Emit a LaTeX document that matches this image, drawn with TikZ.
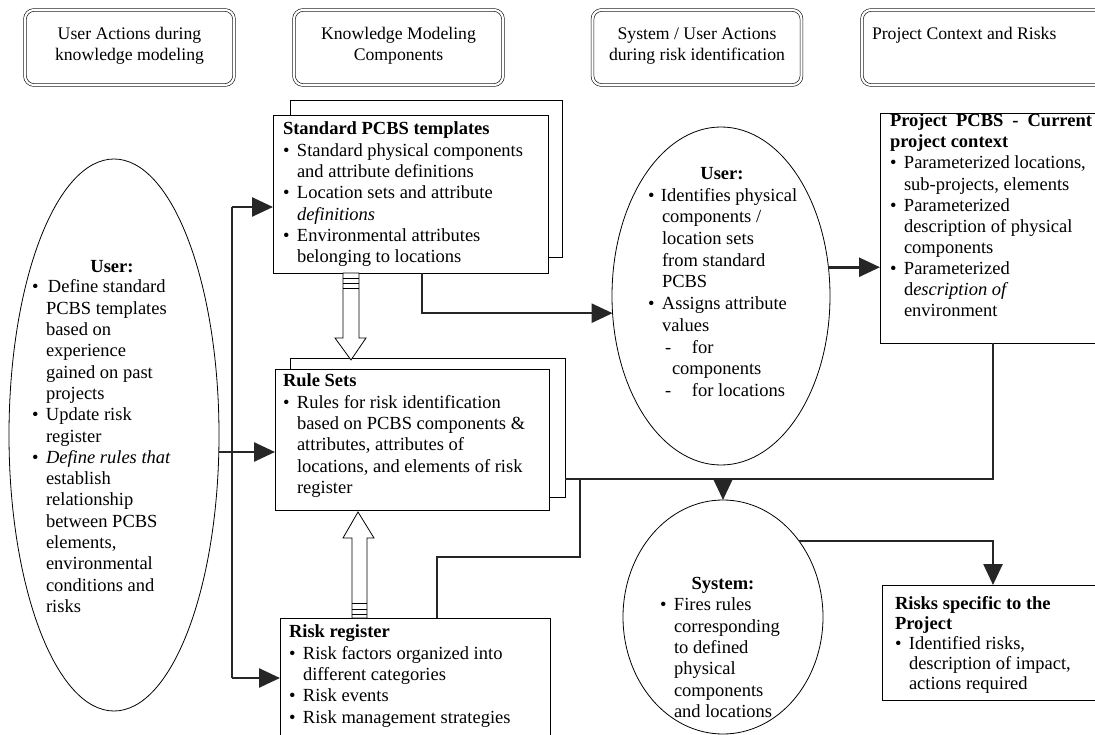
\documentclass[tikz,border=0pt]{standalone}
\usepackage{fontspec}
\setmainfont{Liberation Serif}
\usetikzlibrary{arrows.meta,shapes.geometric}
\newlength\bi
\setlength\bi{14pt}
\newcommand{\bul}{\makebox[\bi][l]{\textbullet}}
\newcommand{\ind}{\hspace*{\bi}}
\begin{document}
\begin{tikzpicture}[x=1pt,y=-1pt,
  box/.style={draw, fill=white, line width=0.8pt, inner sep=0pt, outer sep=0pt},
  oval/.style={ellipse, draw, line width=0.8pt, inner sep=0pt, outer sep=0pt},
  hdr/.style={draw, double, double distance=2.2pt, line width=0.6pt, rounded corners=9pt, inner sep=0pt, outer sep=0pt},
  txt/.style={anchor=north west, inner sep=0pt, outer sep=0pt, align=left, font=\fontsize{18.5}{21.3}\selectfont},
  ctxt/.style={anchor=north, inner sep=0pt, outer sep=0pt, align=center, font=\fontsize{18.5}{21.3}\selectfont\bfseries},
  htxt/.style={anchor=north, inner sep=0pt, outer sep=0pt, align=center, font=\fontsize{17.7}{21}\selectfont},
  conn/.style={line width=2.6pt, draw=black!85},
  arr/.style={-{Triangle[length=21pt,width=19pt]}},
  hollow/.style={draw, fill=white, line width=0.8pt},
]
\path[use as bounding box] (0,0) rectangle (1095,735);
\clip (0,0) rectangle (1095,735);

% header boxes
\node[hdr, minimum width=209pt, minimum height=75pt] (h1) at (129.5,47.5) {};
\node[hdr, minimum width=209pt, minimum height=75pt] (h2) at (398.5,47.5) {};
\node[hdr, minimum width=209pt, minimum height=75pt] (h3) at (697,47.5) {};
\node[hdr, minimum width=260pt, minimum height=75pt] (h4) at (992,47.5) {};
\node[htxt] (h1t) at (129.5,24.5) {\strut User Actions during\\knowledge modeling};
\node[htxt] (h2t) at (398.5,24.5) {\strut Knowledge Modeling\\Components};
\node[htxt] (h3t) at (697,24.5) {\strut System / User Actions\\during risk identification};
\node[htxt, anchor=north west] (h4t) at (872,24.5) {\strut Project Context and Risks};

% left ellipse
\node[oval, minimum width=210pt, minimum height=552pt] (lu) at (114,435) {};
\node[ctxt] (lut) at (112,258) {\strut User:};
\node[txt] (lub) at (32,278) {\setlength\bi{16pt}\strut\bul Define standard\\
\ind PCBS templates\\ \ind based on\\ \ind experience\\ \ind gained on past\\ \ind projects\\
\bul Update risk\\ \ind register\\ \bul \textit{Define rules that}\\ \ind establish\\
\ind relationship\\ \ind between PCBS\\ \ind elements,\\ \ind environmental\\
\ind conditions and\\ \ind risks};

% knowledge modeling boxes
\node[box, minimum width=272pt, minimum height=157pt] (spb) at (426,178.5) {};
\node[box, minimum width=275pt, minimum height=158pt] (spf) at (410.5,194) {};
\node[txt] (spt) at (283,120) {\strut\textbf{Standard PCBS templates}\\
\bul Standard physical components\\ \ind and attribute definitions\\
\bul Location sets and attribute\\ \ind \textit{definitions}\\
\bul Environmental attributes\\ \ind belonging to locations};

\node[box, minimum width=275pt, minimum height=139pt] (rsb) at (427.5,427.5) {};
\node[box, minimum width=274pt, minimum height=141pt] (rsf) at (412,439.5) {};
\node[txt] (rst) at (283,372) {\strut\textbf{Rule Sets}\\
\bul Rules for risk identification\\ \ind based on PCBS components \&\\
\ind attributes, attributes of\\ \ind locations, and elements of risk\\ \ind register};

\node[box, minimum width=270pt, minimum height=127pt] (rr) at (415,681.5) {};
\node[txt] (rrt) at (289,623) {\strut\textbf{Risk register}\\
\bul Risk factors organized into\\ \ind different categories\\
\bul Risk events\\ \bul Risk management strategies};

% hollow arrows
\draw[hollow] (343,273) -- (343,338) -- (335,338) -- (351,360) -- (366,338) -- (359,338) -- (359,273) -- cycle;
\draw[line width=0.7pt] (343,278) -- (359,278) (343,283) -- (359,283) (343,288) -- (359,288);
\draw[hollow] (352,618) -- (352,538) -- (343,538) -- (358,512) -- (374,538) -- (367,538) -- (367,618) -- cycle;
\draw[line width=0.7pt] (352,603) -- (367,603) (352,609) -- (367,609) (352,614) -- (367,614);

% middle user ellipse
\node[oval, minimum width=218pt, minimum height=338pt] (uu) at (721,296) {};
\node[ctxt] (uut) at (722,165) {\strut User:};
\node[txt, font=\fontsize{18.5}{21.7}\selectfont] (uub) at (648,186) {\setlength\bi{13pt}\strut\bul Identifies physical\\
\ind components /\\ \ind location sets\\ \ind from standard\\ \ind PCBS\\
\bul Assigns attribute\\ \ind values\\
\hspace*{17pt}\makebox[27pt][l]{-}for\\ \hspace*{24pt}components\\
\hspace*{17pt}\makebox[27pt][l]{-}for locations};

% system ellipse
\node[oval, minimum width=200pt, minimum height=234pt] (sys) at (723,617) {};
\node[ctxt] (syst) at (723,575) {\strut System:};
\node[txt] (sysb) at (660,596) {\strut\bul Fires rules\\ \ind corresponding\\ \ind to defined\\
\ind physical\\ \ind components\\ \ind and locations};

% project boxes
\node[box, minimum width=226pt, minimum height=230pt] (proj) at (993,228) {};
\node[txt, font=\fontsize{18.5}{21.1}\selectfont] (projt) at (890,112) {\strut\makebox[202pt][s]{\textbf{Project PCBS - Current}}\\
\textbf{project context}\\
\bul Parameterized locations,\\ \ind sub-projects, elements\\
\bul Parameterized\\ \ind description of physical\\ \ind components\\
\bul Parameterized\\ \ind d\textit{escription of}\\ \ind environment};

\node[box, minimum width=222pt, minimum height=115pt] (rsk) at (993,642.5) {};
\node[txt, font=\fontsize{18.5}{20.2}\selectfont] (rskt) at (895,595) {\setlength\bi{12pt}\strut\textbf{Risks specific to the}\\
\textbf{Project}\\ \bul Identified risks,\\ \ind description of impact,\\ \ind actions required};

% connectors
\coordinate (bt) at (232,207);
\coordinate (bb) at (232,678);
\coordinate (c422) at (422,313);
\coordinate (jp) at (993,479);
\coordinate (j1) at (580,479);
\coordinate (j2) at (723,479);
\coordinate (rrc) at (437,557);

\draw[conn] (bt) -- (bb);
\draw[conn, arr] (bt) -- (bt -| spf.west);
\draw[conn, arr] (bb) -- (bb -| rr.west);
\draw[conn, arr] (lu.east |- 0,452) -- (rsf.west |- 0,452);
\draw[conn, arr] (spf.south -| c422) |- (uu.189);
\draw[conn, arr] (uu.15) -- (uu.15 -| proj.west);
\draw[conn] (rsb.east |- jp) -- (jp) -- (proj.south);
\draw[conn, arr] (j2) -- (sys.north);
\draw[conn] (rr.north -| rrc) -- (rrc) -| (j1);
\draw[conn, arr] (sys.45) -| (rsk.north);
\end{tikzpicture}
\end{document}
